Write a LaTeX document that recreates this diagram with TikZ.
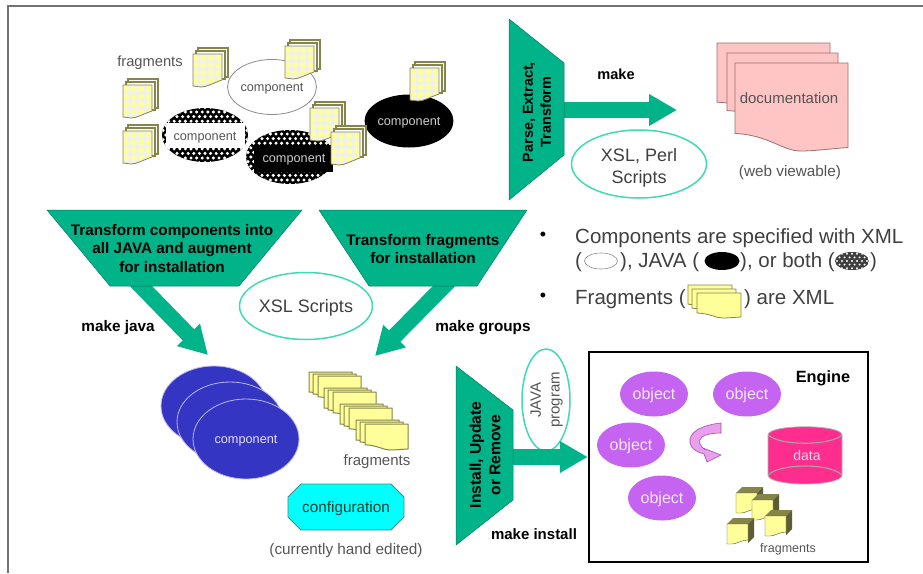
\documentclass[tikz,border=0pt]{standalone}
\usepackage{fontspec}
\setmainfont{Liberation Sans}
\usetikzlibrary{shapes.geometric,arrows.meta}
\definecolor{teal}{HTML}{00B388}
\definecolor{tealline}{HTML}{40DAB4}
\definecolor{txtgrey}{HTML}{555555}
\definecolor{olive}{HTML}{85854A}
\definecolor{pale}{HTML}{FFFF99}
\definecolor{docpink}{HTML}{FFC4C4}
\definecolor{docline}{HTML}{9A7070}
\definecolor{blue1}{HTML}{3535C4}
\definecolor{purple1}{HTML}{C464F0}
\definecolor{hotpink}{HTML}{FF2E8E}
\definecolor{aqua}{HTML}{00FFFF}
\definecolor{turnpink}{HTML}{E8A0EE}
\newcommand\fs[1]{\pgfmathsetmacro\fsbase{#1*1.25}\fontsize{#1}{\fsbase}\selectfont}
\newcommand\wavesheet[5][]{%
  \begin{scope}[shift={(#2,#3)}]
  \path[#1] (0,0) -- (#4,0) -- (#4,0.96*#5) .. controls (0.8*#4,0.98*#5) and (0.7*#4,#5) .. (0.58*#4,#5)
    .. controls (0.42*#4,#5) and (0.3*#4,0.82*#5) .. (0,0.8*#5) -- cycle;
  \end{scope}}
\newcommand\fragdot[2]{%
  \begin{scope}[shift={(#1,#2)}]
  \path[fill=white,draw=olive,line width=1.1pt] (5,0) rectangle (35,29);
  \path[fill=white,draw=olive,line width=1.1pt] (3,3) rectangle (32,31);
  \begin{scope}
    \path[clip] (0,6) -- (29,6) -- (29,32) .. controls (20,35) and (14,39) .. (8,39) -- (0,38) -- cycle;
    \path[fill=black!6] (0,6) rectangle (29,40);
    \foreach \i in {0,...,3}{\foreach \j in {0,...,4}{
      \path[fill=pale] (3+7.6*\i,10+7.6*\j) circle (3pt);}}
  \end{scope}
  \path[draw=olive,line width=.8pt] (0,6) -- (29,6) -- (29,32) .. controls (20,35) and (14,39) .. (8,39) -- (0,38) -- cycle;
  \end{scope}}
\newcommand\dotgrid[4]{% cx cy rx ry
  \begin{scope}
  \path[clip] (#1,#2) ellipse (#3pt and #4pt);
  \path[fill=black] (#1-#3,#2-#4) rectangle (#1+#3,#2+#4);
  \foreach \i in {-9,...,9}{\foreach \j in {-6,...,6}{
    \pgfmathsetmacro\xo{#1+5.6*\i+2.8*mod(abs(\j),2)}
    \pgfmathsetmacro\yo{#2+4.6*\j}
    \path[fill=white] (\xo,\yo) circle (1.7pt);}}
  \end{scope}}
\newcommand\fragcube[2]{%
  \begin{scope}[shift={(#1,#2)}]
  \path[fill=olive] (0,6) -- (6,0) -- (27,0) -- (21,6) -- cycle;
  \path[fill=olive!70!black] (21,6) -- (27,0) -- (27,19) -- (21,25) -- cycle;
  \path[fill=pale,draw=olive!60!black,line width=.4pt] (0,6) -- (21,6) -- (21,22) .. controls (14,22) and (10,26) .. (5,26) -- (0,26) -- cycle;
  \end{scope}}
\newcommand\fragrow[2]{%
  \wavesheet[fill=pale,draw=olive,line width=1pt]{#1}{#2}{43}{25}
  \wavesheet[fill=pale,draw=olive,line width=1pt]{#1+4}{#2+2}{43}{25}
  \wavesheet[fill=pale,draw=olive,line width=1pt]{#1+9}{#2+4}{43}{26}}
\tikzset{
  x=1pt,y=-1pt,
  every node/.append style={text depth=0pt},
  plain/.style={text=txtgrey,inner sep=0pt},
  strong/.style={text=black,inner sep=0pt,font=\bfseries},
  blockarrow/.style={draw=teal,line width=16pt,-{Triangle[length=28pt,width=30pt]}},
  hopper/.style={fill=teal,draw=teal!70!black,line width=.5pt},
  scriptbubble/.style={ellipse,draw=tealline,line width=1.5pt,inner sep=0pt,text=black!75,align=center},
  compwhite/.style={ellipse,draw=black!45,line width=.8pt,fill=white,minimum width=86pt,minimum height=55pt,inner sep=0pt,text=txtgrey,font=\fs{12.7}},
  compblack/.style={ellipse,fill=black,minimum width=88pt,minimum height=53pt,inner sep=0pt,text=black!20,font=\fs{12.7}},
  compblue/.style={ellipse,fill=blue1,draw=white!65!blue1,line width=.8pt,minimum width=106pt,minimum height=80pt,inner sep=0pt,text=white!85!blue1,font=\fs{12.7}},
  objectnode/.style={ellipse,fill=purple1,minimum width=68pt,minimum height=45pt,inner sep=0pt,text=white!85!purple1,font=\fs{16}},
  legendtext/.style={inner sep=0pt,anchor=west,text=black!75,font=\fs{20.5}},
}
\begin{document}
\begin{tikzpicture}
\useasboundingbox (0,0) rectangle (923,573);
\path[fill=white] (0,0) rectangle (923,573);
\path[draw=black!55,line width=1.5pt] (8,573) -- (8,6) -- (923,6);

% top-left cluster
\node[compwhite] (c1) at (272,87) {component};
\dotgrid{205}{135}{43}{27}
\path[fill=white] (166,123) rectangle (245,148);
\node[plain,font=\fs{12.7}] (c2) at (205,136) {component};
\dotgrid{290}{157}{44}{27}
\path[fill=black] (254,145) rectangle (333,172);
\node[inner sep=0pt,text=black!20,font=\fs{12.7}] (c3) at (294,158) {component};
\node[compblack] (c4) at (409,121) {component};
\node[plain,font=\fs{14.7}] (fragtxt) at (150,61) {fragments};
\fragdot{193}{48}
\fragdot{285}{40}
\fragdot{123}{79}
\fragdot{123}{125}
\fragdot{310}{102}
\fragdot{331}{126}
\fragdot{410}{62}

% parse stage
\coordinate (parseout) at (560,110);
\coordinate (doctarget) at (677,110);
\draw[blockarrow] (parseout) -- (doctarget);
\path[hopper] (509,19) -- (564,63) -- (564,155) -- (509,200) -- cycle;
\node[strong,rotate=90,align=center,font=\bfseries\fs{14.4}] (parse) at (537,112) {Parse, Extract,\\Transform};
\node[strong,font=\bfseries\fs{14.6}] (make) at (616,74) {make};
\node[scriptbubble,minimum width=135pt,minimum height=68pt] (xslperl) at (639,164) {};
\node[inner sep=0pt,align=center,text=black!75,font=\fs{18}] (xslperltxt) at (639,166) {XSL, Perl\\Scripts};

% documentation
\wavesheet[fill=docpink,draw=docline,line width=.8pt]{717}{43}{113}{74}
\wavesheet[fill=docpink,draw=docline,line width=.8pt]{727}{53}{111}{72}
\wavesheet[fill=docpink,draw=docline,line width=.8pt]{735}{63}{113}{88}
\node[plain,font=\fs{15}] (doc) at (789,98) {documentation};
\node[plain,font=\fs{15.3}] (web) at (790,171) {(web viewable)};

% transform stages and arrows
\coordinate (t1out) at (136,281);
\coordinate (t1tip) at (208,355);
\coordinate (t2out) at (449,281);
\coordinate (t2tip) at (375,356);
\draw[blockarrow] (t1out) -- (t1tip);
\draw[blockarrow] (t2out) -- (t2tip);
\path[hopper] (47,210) -- (302,210) -- (239,286) -- (110,286) -- cycle;
\path[hopper] (319,210) -- (527,210) -- (477,286) -- (369,286) -- cycle;
\node[strong,align=center,font=\bfseries\fontsize{15.3}{18.5}\selectfont] (t1) at (172,248) {Transform components into\\all JAVA and augment\\for installation};
\node[strong,align=center,font=\bfseries\fontsize{15.3}{18.5}\selectfont] (t2) at (423,249) {Transform fragments\\for installation};
\node[strong,font=\bfseries\fs{15.3}] (mj) at (118,326) {make java};
\node[strong,font=\bfseries\fs{15.3}] (mg) at (483,326) {make groups};
\node[scriptbubble,minimum width=133pt,minimum height=67pt,font=\fs{18}] (xsl) at (306,306) {XSL Scripts};

% bullets
\node[inner sep=0pt,font=\fs{18}] (b1) at (543,236) {•};
\node[inner sep=0pt,font=\fs{18}] (b2) at (543,297) {•};
\node[legendtext] (l1) at (575,236) {Components are specified with XML};
\node[legendtext] (l2a) at (575,260) {(};
\node[ellipse,draw=black!45,line width=.6pt,minimum width=33pt,minimum height=16pt,inner sep=0pt] (lw) at (601,261) {};
\node[legendtext] (l2b) at (620,260) {), JAVA (};
\node[ellipse,fill=black,minimum width=35pt,minimum height=18pt,inner sep=0pt] (lb) at (722,261) {};
\node[legendtext] (l2c) at (740,260) {), or both (};
\begin{scope}
\path[clip] (852,261) ellipse (17pt and 9pt);
\path[fill=black!75] (835,252) rectangle (869,270);
\foreach \i in {-3,...,3}{\foreach \j in {-2,...,2}{
  \pgfmathsetmacro\xo{852+5*\i+2.5*mod(abs(\j),2)}
  \pgfmathsetmacro\yo{261+3.6*\j}
  \path[fill=white] (\xo,\yo) circle (1.1pt);}}
\end{scope}
\node[legendtext] (l2d) at (870,260) {)};
\node[legendtext] (l3a) at (575,297) {Fragments (};
\wavesheet[fill=pale,draw=olive,line width=.8pt]{688}{285}{44}{24}
\wavesheet[fill=pale,draw=olive,line width=.8pt]{692}{289}{44}{24}
\wavesheet[fill=pale,draw=olive,line width=.8pt]{697}{293}{44}{25}
\node[legendtext] (l3b) at (744,297) {) are XML};

% generated components and fragments
\node[compblue] (g1) at (214,406) {};
\node[compblue] (g2) at (230,422) {};
\node[compblue] (g3) at (246,439) {component};
\fragrow{309}{372}
\fragrow{324}{388}
\fragrow{340}{404}
\fragrow{356}{420}
\node[plain,font=\fs{15}] (ftxt2) at (377,460) {fragments};
\path[fill=aqua,draw=teal!50!black!70,line width=.8pt] (301,484) -- (391,484) -- (404,497) -- (404,517) -- (391,530) -- (301,530) -- (288,517) -- (288,497) -- cycle;
\node[inner sep=0pt,text=teal!35!black,font=\fs{15.3}] (conf) at (346,507) {configuration};
\node[plain,font=\fs{15.3}] (cur) at (346,549) {(currently hand edited)};

% install stage
\node[scriptbubble,minimum width=48pt,minimum height=102pt] (jp) at (546,400) {};
\node[plain,rotate=90,align=center,font=\fs{15}] (jptxt) at (545,400) {JAVA\\program};
\node[draw=black,line width=2.5pt,minimum width=279pt,minimum height=210pt,inner sep=0pt] (engine) at (728.5,457) {};
\coordinate (installout) at (510,457);
\draw[blockarrow] (installout) -- (engine.west);
\path[hopper] (456,366) -- (513,410) -- (513,500) -- (456,545) -- cycle;
\node[strong,rotate=90,align=center,font=\bfseries\fs{15.6}] (inst) at (485,455) {Install, Update\\or Remove};
\node[strong,font=\bfseries\fs{15}] (mi) at (534,534) {make install};
\node[strong,font=\bfseries\fs{16.3}] (engtxt) at (823,377) {Engine};
\node[objectnode] (o1) at (654,394) {object};
\node[objectnode] (o2) at (747,394) {object};
\node[objectnode] (o3) at (631,445) {object};
\node[objectnode] (o4) at (662,498) {object};
\path[fill=turnpink,draw=violet!70,line width=.6pt] (721,423) .. controls (702,425) and (688,432) .. (690,443)
  .. controls (691,449) and (697,452) .. (704,454) -- (707,462) -- (721,455) -- (703,448) -- (705,450)
  .. controls (700,446) and (697,441) .. (702,437) .. controls (706,434) and (714,433) .. (721,433) -- cycle;
% data store
\path[fill=hotpink,draw=black!30,line width=.8pt] (768,435) .. controls (768,424) and (842,424) .. (842,435) -- (842,475) .. controls (842,487) and (768,487) .. (768,475) -- cycle;
\path[draw=black!35,line width=1.1pt] (768,435) .. controls (780,446) and (830,446) .. (842,435);
\path[draw=black!35,line width=1.1pt] (768,475) .. controls (780,463) and (830,463) .. (842,475);
\node[inner sep=0pt,text=white!80!hotpink,font=\fs{14}] (datatxt) at (807,455) {data};
\fragcube{736}{487}
\fragcube{752}{494}
\fragcube{765}{510}
\fragcube{727}{518}
\node[plain,font=\fs{12.5}] (ftxt3) at (788,548) {fragments};
\end{tikzpicture}
\end{document}
